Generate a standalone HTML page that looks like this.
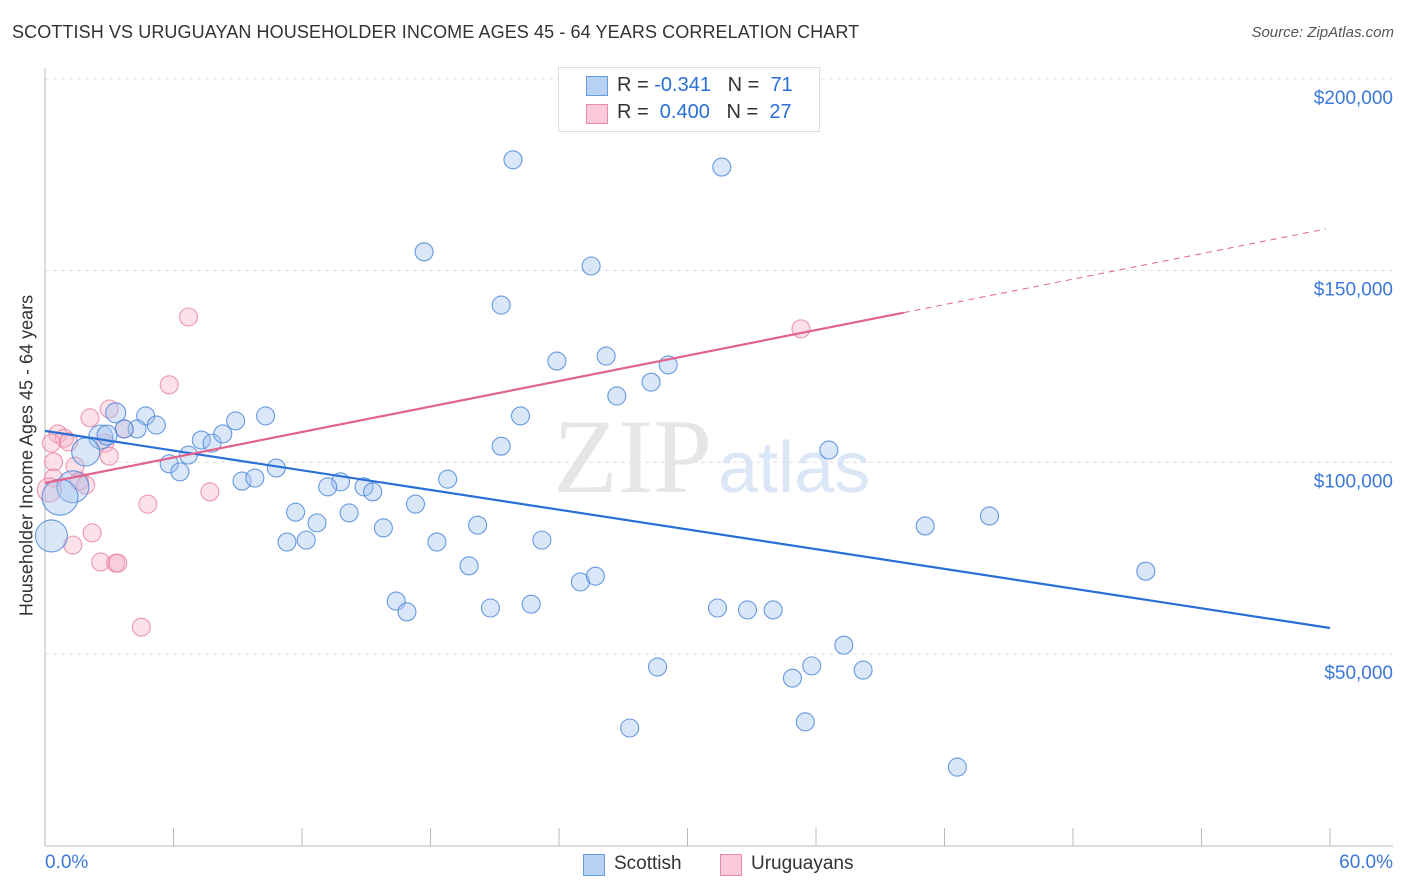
<!DOCTYPE html>
<html><head><meta charset="utf-8"><style>
body{margin:0;background:#fff;font-family:"Liberation Sans",sans-serif;}
#wrap{position:relative;width:1406px;height:892px;overflow:hidden;}
.t{position:absolute;white-space:nowrap;}
</style></head><body>
<div id="wrap">
<div class="t" style="left:12px;top:22px;font-size:18px;color:#333;letter-spacing:0.1px">SCOTTISH VS URUGUAYAN HOUSEHOLDER INCOME AGES 45 - 64 YEARS CORRELATION CHART</div>
<div class="t" style="right:12px;top:24px;font-size:15px;color:#555;font-style:italic">Source: ZipAtlas.com</div>
<svg id="svg" width="1406" height="892" style="position:absolute;left:0;top:0"></svg>
</div>
<script>
const xTicksPct=[0,6,12,18,24,30,36,42,48,54,60];
const yGrid=[50000,100000,150000,200000];
const yTickLabels=["$50,000","$100,000","$150,000","$200,000"];
const xLabels=["0.0%","60.0%"];
const scotX=[21.85,31.6,17.7,25.5,21.3,23.9,26.2,29.1,28.3,26.7,22.2,10.3,4.7,5.2,8.9,3.3,4.3,3.7,2.6,2.9,7.3,7.8,8.3,6.7,5.8,6.3,21.3,36.6,10.8,9.2,9.8,18.8,13.8,13.2,14.9,15.3,1.9,1.3,0.7,0.3,11.7,14.2,17.3,12.7,15.8,20.2,41.1,44.1,11.3,12.2,18.3,23.2,19.8,51.4,25.0,25.7,16.4,16.9,20.8,22.7,31.4,32.8,34.0,37.3,28.6,35.8,34.9,38.2,35.5,27.3,42.6];
const scotY=[178.9,177.0,154.9,151.2,141.0,126.4,127.7,125.4,120.9,117.3,112.1,112.1,112.1,109.7,110.8,112.9,108.7,108.7,106.6,107.1,105.8,105.0,107.4,101.9,99.6,97.5,104.2,103.2,98.5,95.1,95.9,95.6,94.9,93.6,93.6,92.3,102.7,93.6,90.9,80.8,87.0,86.8,89.1,84.2,82.9,83.6,83.4,86.0,79.2,79.7,79.2,79.7,73.0,71.6,68.8,70.3,63.8,61.0,62.0,63.0,62.0,61.5,61.5,52.3,46.6,46.9,43.7,45.8,32.3,30.7,20.5];
const scotR=[9,9,9,9,9,9,9,9,9,9,9,9,9,9,9,10,9,9,12,10,9,9,9,9,9,9,9,9,9,9,9,9,9,9,9,9,14,16,18,16,9,9,9,9,9,9,9,9,9,9,9,9,9,9,9,9,9,9,9,9,9,9,9,9,9,9,9,9,9,9,9];
const uruX=[6.7,5.8,35.3,3.0,2.1,0.6,0.9,1.1,0.3,2.8,3.0,3.7,0.4,1.4,0.4,1.6,7.7,4.8,2.2,1.3,2.6,3.3,3.4,4.5,0.2,1.9];
const uruY=[137.9,120.2,134.8,113.9,111.6,107.4,106.3,105.3,105.0,105.0,101.6,108.7,100.1,99.0,95.9,95.1,92.3,89.1,81.6,78.4,74.0,73.7,73.7,57.0,92.8,94.1];
const uruR=[9,9,9,9,9,9,9,9,9,9,9,9,9,9,9,9,9,9,9,9,9,9,9,9,12,9];
const blueFit=[108.2,-0.857];   // intercept ($k), slope per %
const pinkFit=[94.6,1.108];
const pinkSolidEnd=40.1, pinkDashEnd=59.8;

const X=p=>45+p/60*1285;
const Y=v=>654-(v-50)/50*191.7;
const svg=document.getElementById('svg');const NS='http://www.w3.org/2000/svg';
function mk(t,a){const e=document.createElementNS(NS,t);for(const k in a)e.setAttribute(k,a[k]);svg.appendChild(e);return e;}
yGrid.forEach((g,i)=>{
 const l=mk('line',{x1:45,x2:1393,y1:Y(g/1000),y2:Y(g/1000),stroke:'#ddd','stroke-dasharray':'4,4'});
 
 
 const t=mk('text',{x:1393,y:Y(g/1000)+25,'text-anchor':'end',fill:'#3b78d8','font-size':19,'font-family':'Liberation Sans, sans-serif'});
 t.textContent=yTickLabels[i];
 
 
});
const ax=mk('line',{x1:45,x2:45,y1:68,y2:846,stroke:'#bbb'});


const bx=mk('line',{x1:45,x2:1393,y1:846,y2:846,stroke:'#bbb'});


xTicksPct.forEach(p=>{const l=mk('line',{x1:X(p),x2:X(p),y1:828,y2:846,stroke:'#bbb'});
 
 });
const wm=mk('text',{x:553,y:492,fill:'#e6e6e6','font-size':106,'font-family':'Liberation Serif, serif'});wm.textContent='ZIP';


const wm2=mk('text',{x:718,y:492,fill:'#dbe6f6','font-size':72,'font-family':'Liberation Sans, sans-serif'});wm2.textContent='atlas';


function dots(xs,ys,rs,fill,stroke,name){xs.forEach((x,i)=>{const c=mk('circle',{cx:X(x),cy:Y(ys[i]),r:rs[i],fill:fill,stroke:stroke,'stroke-width':1.1});
 
 });}
dots(uruX,uruY,uruR,'rgba(248,180,200,0.4)','rgba(230,120,155,0.75)','uruguayan-point');
dots(scotX,scotY,scotR,'rgba(160,195,240,0.4)','rgba(70,130,215,0.8)','scottish-point');
const bl=mk('line',{x1:X(0),y1:Y(blueFit[0]),x2:X(60),y2:Y(blueFit[0]+blueFit[1]*60),stroke:'#2a6fd6','stroke-width':2.2});


const pl=mk('line',{x1:X(0),y1:Y(pinkFit[0]),x2:X(pinkSolidEnd),y2:Y(pinkFit[0]+pinkFit[1]*pinkSolidEnd),stroke:'#e2638d','stroke-width':2.2});


const pd=mk('line',{x1:X(pinkSolidEnd),y1:Y(pinkFit[0]+pinkFit[1]*pinkSolidEnd),x2:X(pinkDashEnd),y2:Y(pinkFit[0]+pinkFit[1]*pinkDashEnd),stroke:'#e2638d','stroke-width':1,'stroke-dasharray':'6,5'});


</script>
<div class="t" style="left:45px;top:852px;font-size:19px;color:#3b78d8">0.0%</div>
<div class="t" style="right:13px;top:852px;font-size:19px;color:#3b78d8">60.0%</div>
<div class="t" style="left:-173px;top:445px;transform:rotate(-90deg);transform-origin:center;width:400px;text-align:center;font-size:18px;color:#333">Householder Income Ages 45 - 64 years</div>
<div style="position:absolute;left:558px;top:67px;width:260px;height:63px;border:1px solid #ddd;background:#fff">
 <div style="position:absolute;left:27px;top:8px;width:20px;height:18px;background:#b8d2f4;border:1px solid #6a9be0"></div>
 <div class="t" style="left:58px;top:6px;font-size:20px;color:#333">R = <span style="color:#2a6fd6">-0.341</span>&nbsp;&nbsp;&nbsp;N = &nbsp;<span style="color:#2a6fd6">71</span></div>
 <div style="position:absolute;left:27px;top:36px;width:20px;height:18px;background:#fbc9d7;border:1px solid #e88aa8"></div>
 <div class="t" style="left:58px;top:33px;font-size:20px;color:#333">R = &nbsp;<span style="color:#2a6fd6">0.400</span>&nbsp;&nbsp;&nbsp;N = &nbsp;<span style="color:#2a6fd6">27</span></div>
</div>
<div style="position:absolute;left:583px;top:854px;width:20px;height:20px;background:#b8d2f4;border:1px solid #6a9be0"></div>
<div class="t" style="left:614px;top:853px;font-size:19px;color:#333">Scottish</div>
<div style="position:absolute;left:720px;top:854px;width:20px;height:20px;background:#fbc9d7;border:1px solid #e88aa8"></div>
<div class="t" style="left:751px;top:853px;font-size:19px;color:#333">Uruguayans</div>
</body></html>
